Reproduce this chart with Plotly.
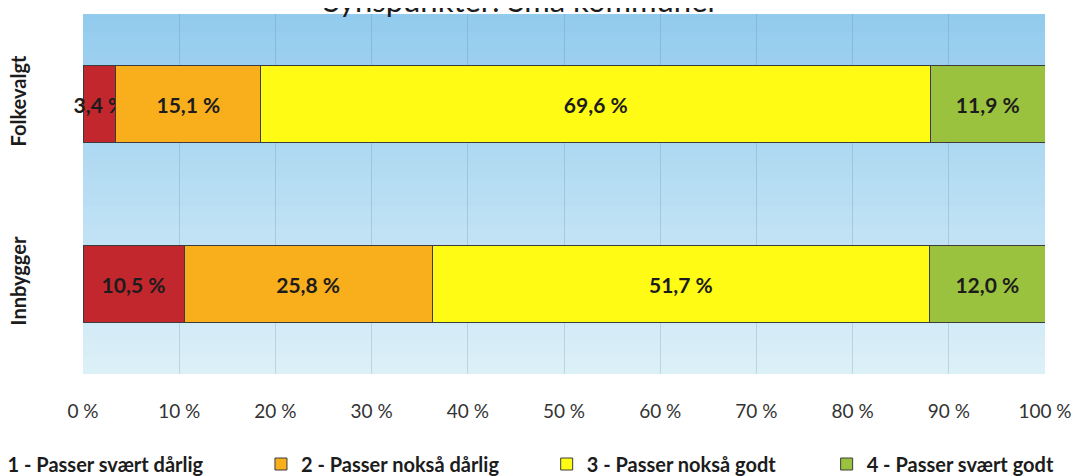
import plotly.graph_objects as go

categories = ["Folkevalgt", "Innbygger"]
series_names = ["1 - Passer svært dårlig", "2 - Passer nokså dårlig",
                "3 - Passer nokså godt", "4 - Passer svært godt"]
series_values = [
    [3.4, 10.5],
    [15.1, 25.8],
    [69.6, 51.7],
    [11.9, 12.0],
]
tick_values = [0, 10, 20, 30, 40, 50, 60, 70, 80, 90, 100]
tick_labels = ["0 %", "10 %", "20 %", "30 %", "40 %", "50 %",
               "60 %", "70 %", "80 %", "90 %", "100 %"]
title_text = "Synspunkter: Små kommuner"

colors = ["#c1272d", "#f9ae1c", "#fffb14", "#9bc23e"]
legend_x = [-0.12, 0.185, 0.482, 0.773]
legend_ids = ["legend", "legend2", "legend3", "legend4"]
font_family = "Lato"

fig = go.Figure()
for i, name in enumerate(series_names):
    fig.add_trace(go.Bar(
        y=categories,
        x=series_values[i],
        name=name,
        orientation="h",
        width=0.43,
        marker=dict(color=colors[i], line=dict(color="#3c3c3c", width=1)),
        text=[f"{v:.1f} %".replace(".", ",") for v in series_values[i]],
        textposition="inside",
        insidetextanchor="middle",
        constraintext="none",
        cliponaxis=False,
        textangle=0,
        textfont=dict(family=font_family, size=21, color="#1c1c1c", weight="bold"),
        legend=legend_ids[i],
    ))

# gradient plot background, light at the bottom, darker blue at the top
n_bands = 60
top = (0x93, 0xcb, 0xee)
bottom = (0xdc, 0xf0, 0xf8)
for k in range(n_bands):
    t = k / (n_bands - 1)
    c = tuple(round(bottom[j] + (top[j] - bottom[j]) * t) for j in range(3))
    fig.add_shape(type="rect", xref="x domain", yref="y domain",
                  x0=0, x1=1, y0=k / n_bands, y1=(k + 1) / n_bands,
                  fillcolor="rgb(%d,%d,%d)" % c, line_width=0, layer="below")

# title sits partly above the page edge, as in the scanned original
fig.add_annotation(text=title_text, xref="paper", yref="paper", x=0.455, y=1.0,
                   xanchor="center", yanchor="middle", yshift=14, showarrow=False,
                   font=dict(family=font_family, size=31, color="#1c1c1c"))

legend_common = dict(orientation="h", y=-0.25, yanchor="middle", xanchor="left",
                     bgcolor="rgba(0,0,0,0)",
                     font=dict(family=font_family, size=20, color="#1c1c1c", weight="bold"))

# the page body adds an 8px offset, so the figure is 8px smaller than the window
fig.update_layout(
    width=1077, height=468,
    barmode="stack",
    paper_bgcolor="white",
    plot_bgcolor="#dcf0f8",
    margin=dict(l=75, r=40, t=6, b=102, autoexpand=False),
    xaxis=dict(range=[0, 100], tickvals=tick_values, ticktext=tick_labels,
               showgrid=True, gridcolor="rgba(60,95,120,0.18)", gridwidth=1,
               zeroline=False, showline=False, ticks="",
               ticklabelstandoff=24,
               tickfont=dict(family=font_family, size=19, color="#333333")),
    yaxis=dict(categoryorder="array", categoryarray=categories[::-1],
               showgrid=False, zeroline=False, showline=False, ticks="",
               tickangle=-90, ticklabelstandoff=52,
               tickfont=dict(family=font_family, size=20, color="#1c1c1c", weight="bold")),
    showlegend=True,
    legend=dict(x=legend_x[0], **legend_common),
    legend2=dict(x=legend_x[1], **legend_common),
    legend3=dict(x=legend_x[2], **legend_common),
    legend4=dict(x=legend_x[3], **legend_common),
)

fig.write_html("out.html")
